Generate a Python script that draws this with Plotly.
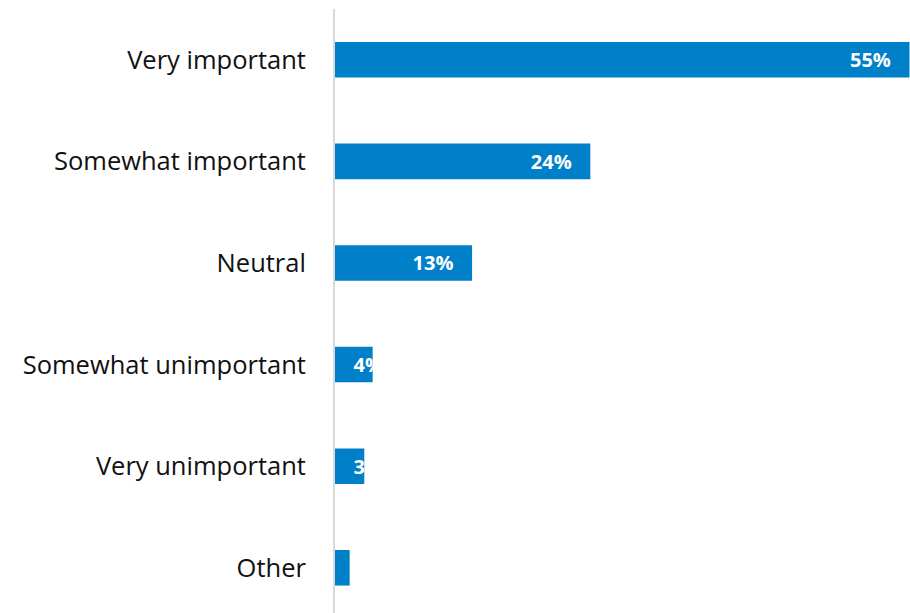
import plotly.graph_objects as go

categories = ["Very important", "Somewhat important", "Neutral",
              "Somewhat unimportant", "Very unimportant", "Other"]
values = [54.9, 24.4, 13.1, 3.6, 2.8, 1.4]

BAR_COLOR = "#0080C8"
PAD = "\u00a0\u00a0\u00a0"

big = [(c, v) for c, v in zip(categories, values) if v >= 10]
small = [(c, v) for c, v in zip(categories, values) if v < 10]

label_font = dict(family="Open Sans", size=20, color="white", weight="bold")

fig = go.Figure()
fig.add_trace(go.Bar(
    y=[c for c, _ in big], x=[v for _, v in big], orientation="h",
    marker=dict(color=BAR_COLOR, line=dict(width=0)),
    texttemplate="%{x:.0f}%" + PAD, textposition="inside",
    insidetextanchor="end", constraintext="none", textangle=0,
    textfont=label_font, hoverinfo="skip", showlegend=False,
))
fig.add_trace(go.Bar(
    y=[c for c, _ in small], x=[v for _, v in small], orientation="h",
    marker=dict(color=BAR_COLOR, line=dict(width=0)),
    texttemplate=PAD + "%{x:.0f}%", textposition="inside",
    insidetextanchor="start", constraintext="none", textangle=0,
    textfont=label_font, hoverinfo="skip", showlegend=False,
))

fig.update_layout(
    width=910, height=613,
    margin=dict(l=335, r=0, t=9, b=0),
    paper_bgcolor="white", plot_bgcolor="white",
    barmode="overlay", bargap=0.65,
    xaxis=dict(range=[0, 54.95], showgrid=False, zeroline=False,
               showticklabels=False, showline=False, fixedrange=True),
    yaxis=dict(categoryorder="array", categoryarray=categories,
               range=[5.445, -0.5], showgrid=False, zeroline=False,
               showline=True, linecolor="#D9D9D9", linewidth=2,
               ticks="", ticklabelstandoff=22, fixedrange=True,
               tickfont=dict(family="Open Sans", size=25.5, color="#111111")),
    font=dict(family="Open Sans"),
)

fig.write_html(
    "out.html",
    config={"displayModeBar": False},
    post_script="document.body.style.margin='0';document.body.style.overflow='hidden';",
)
